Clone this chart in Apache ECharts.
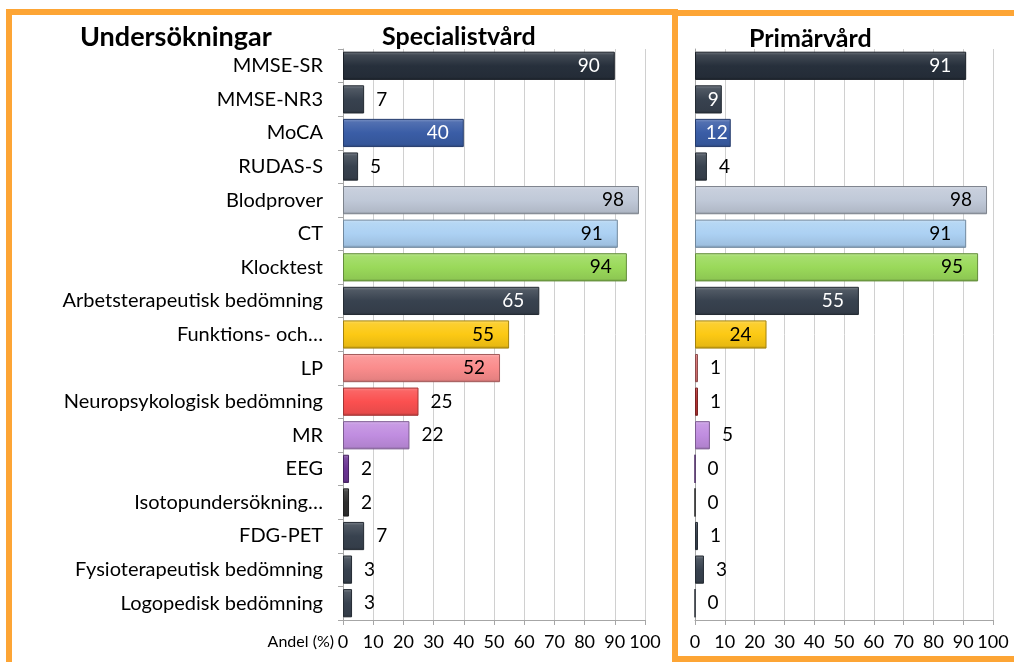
<!DOCTYPE html>
<html>
<head>
<meta charset="utf-8">
<script src="https://cdn.jsdelivr.net/npm/echarts@6/dist/echarts.min.js"></script>
<style>html,body{margin:0;padding:0;background:#fff;}#c{width:1014px;height:662px;}</style>
</head>
<body>
<div id="c"></div>
<script>
const categories = ["MMSE-SR","MMSE-NR3","MoCA","RUDAS-S","Blodprover","CT","Klocktest","Arbetsterapeutisk bedömning","Funktions- och…","LP","Neuropsykologisk bedömning","MR","EEG","Isotopundersökning…","FDG-PET","Fysioterapeutisk bedömning","Logopedisk bedömning"];
const specialistvard = [90,7,40,5,98,91,94,65,55,52,25,22,2,2,7,3,3];
const primarvard = [91,9,12,4,98,91,95,55,24,1,1,5,0,0,1,3,0];
const xTicks = [0,10,20,30,40,50,60,70,80,90,100];

const barColors = ["#27303c","#38424f","#3a5da6","#38424f","#c0c9d8","#acd1f3","#9ad95a","#38424f","#fcc914","#fa8c8c","#fb5050","#c08de0","#6b3594","#2f2f2f","#38424f","#38424f","#38424f"];
const primColors = ["#27303c","#38424f","#3a5da6","#38424f","#c0c9d8","#acd1f3","#9ad95a","#38424f","#fcc914","#d87373","#b83434","#c08de0","#6b3594","#2f2f2f","#38424f","#38424f","#38424f"];

function shade(hex, f){
  let r=parseInt(hex.substr(1,2),16),g=parseInt(hex.substr(3,2),16),b=parseInt(hex.substr(5,2),16);
  if(f>0){r=r+(255-r)*f;g=g+(255-g)*f;b=b+(255-b)*f;}else{r=r*(1+f);g=g*(1+f);b=b*(1+f);}
  return 'rgb('+Math.round(r)+','+Math.round(g)+','+Math.round(b)+')';
}
function isDark(hex){
  let r=parseInt(hex.substr(1,2),16),g=parseInt(hex.substr(3,2),16),b=parseInt(hex.substr(5,2),16);
  return (0.299*r+0.587*g+0.114*b)<110;
}
function items(vals, cols, insideMin){
  return vals.map((v,i)=>{
    const c=cols[i];
    const inside = v>=insideMin;
    return {
      value:v,
      itemStyle:{
        color:{type:'linear',x:0,y:0,x2:0,y2:1,colorStops:[
          {offset:0,color:shade(c,0.35)},{offset:0.12,color:shade(c,0.12)},
          {offset:0.5,color:c},{offset:0.9,color:shade(c,-0.08)},{offset:1,color:shade(c,-0.3)}]},
        borderColor:shade(c,-0.35),borderWidth:1
      },
      label:{
        position: inside?'insideRight':'right',
        distance: inside?(v>=20?15:3):12,
        color: inside && isDark(c) ? '#ffffff' : '#000000'
      }
    };
  });
}
const FONT = 'Lato, "Open Sans", sans-serif';
const chart = echarts.init(document.getElementById('c'));
function xAxis(gi){
  return {type:'value',gridIndex:gi,min:0,max:100,interval:10,
    axisLine:{show:true,lineStyle:{color:'#a6a6a6'}},
    axisTick:{show:true,length:5,lineStyle:{color:'#a6a6a6'}},
    splitLine:{show:true,lineStyle:{color:'#d0d0d0'}},
    axisLabel:{color:'#000',fontSize:18,fontFamily:FONT,margin:13,
      formatter:(v)=> xTicks.indexOf(v)>=0 ? String(v) : ''}};
}
chart.setOption({
  animation:false,
  textStyle:{fontFamily:FONT},
  grid:[
    {left:343,right:369,top:49,bottom:42},
    {left:695,right:21,top:49,bottom:42}
  ],
  xAxis:[xAxis(0),xAxis(1)],
  yAxis:[
    {type:'category',gridIndex:0,data:categories,inverse:true,
      axisLine:{show:true,lineStyle:{color:'#a6a6a6'}},
      axisTick:{show:true,length:5,lineStyle:{color:'#a6a6a6'}},
      axisLabel:{color:'#000',fontSize:20,fontFamily:FONT,margin:20}},
    {type:'category',gridIndex:1,data:categories,inverse:true,
      axisLine:{show:true,lineStyle:{color:'#a6a6a6'}},
      axisTick:{show:false},axisLabel:{show:false}}
  ],
  series:[
    {type:'bar',xAxisIndex:0,yAxisIndex:0,barCategoryGap:'16%',
      data:items(specialistvard,barColors,30),
      label:{show:true,fontSize:19,fontFamily:FONT}},
    {type:'bar',xAxisIndex:1,yAxisIndex:1,barCategoryGap:'16%',
      data:items(primarvard,primColors,9),
      label:{show:true,fontSize:19,fontFamily:FONT}}
  ],
  graphic:[
    {type:'rect',shape:{x:9,y:12,width:666,height:700},style:{fill:'none',stroke:'#fda535',lineWidth:6},silent:true},
    {type:'rect',shape:{x:675,y:13,width:350,height:646},style:{fill:'none',stroke:'#fda535',lineWidth:6},silent:true},
    {type:'text',left:80,top:24,style:{text:'Undersökningar',font:'bold 27px '+FONT,fill:'#000'}},
    {type:'text',left:382,top:24,style:{text:'Specialistvård',font:'bold 25px '+FONT,fill:'#000'}},
    {type:'text',left:749,top:26,style:{text:'Primärvård',font:'bold 25px '+FONT,fill:'#000'}},
    {type:'text',right:1014-334,top:634,style:{text:'Andel (%)',font:'16px '+FONT,fill:'#000'}}
  ]
});
</script>
</body>
</html>
